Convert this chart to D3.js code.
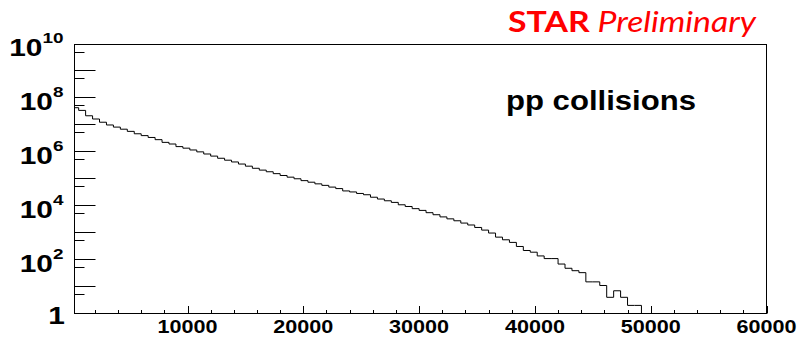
<!DOCTYPE html>
<html>
<head>
<meta charset="utf-8">
<script src="https://cdn.jsdelivr.net/npm/d3@7"></script>
<style>
  body { margin: 0; background: #fff; }
  svg { display: block; }
  text { font-family: "Liberation Sans", Arial, Helvetica, sans-serif; }
</style>
</head>
<body>
<div id="chart"></div>
<script>
// histogram: 600-wide bins starting at 0
var binLow = 0;
var binWidth = 600;
var counts = [
  44700000, 35500000, 22400000, 17000000, 12900000, 10200000, 8500000, 7100000, 5900000, 4800000,
  4100000, 3500000, 2900000, 2300000, 2000000, 1600000, 1400000, 1200000, 1020000, 850000,
  710000, 590000, 500000, 430000, 360000, 300000, 250000, 214000, 186000, 158000,
  135000, 117000, 102000, 87000, 76000, 66000, 58000, 50000, 44000, 36000,
  33000, 29000, 26000, 21000, 18000, 15500, 13500, 11000, 9500, 7900,
  6800, 5600, 4700, 3900, 3300, 2800, 2300, 1950, 1580, 1260,
  980, 690, 550, 440, 310, 220, 190, 138, 110, 110,
  69, 48, 39, 33, 15, 15, 11, 4, 7, 4,
  2, 2, 0, 0, 0, 0, 0, 0, 0, 0,
  0, 0, 0, 0, 0, 0, 0, 0, 0, 0
];
var xTicks = [10000, 20000, 30000, 40000, 50000, 60000];
var yLabelExp = [10, 8, 6, 4, 2, 0];
var plotLabel = "pp collisions";

var svgWidth = 811, svgHeight = 337;
var frame = { left: 74.5, right: 766.5, top: 44.5, bottom: 313.5 };
var stretch = 1.22;

var svg = d3.select("#chart").append("svg")
  .attr("width", svgWidth)
  .attr("height", svgHeight);

var xScale = d3.scaleLinear().domain([240, 60000]).range([frame.left, frame.right]);
var yScale = d3.scaleLog().domain([1, 1e10]).range([frame.bottom, frame.top]);

svg.append("clipPath").attr("id", "clip")
  .append("rect")
  .attr("x", frame.left).attr("y", frame.top)
  .attr("width", frame.right - frame.left)
  .attr("height", frame.bottom - frame.top);

// histogram outline as steps
var pts = [[xScale(binLow), frame.bottom]];
counts.forEach(function(c, i) {
  var x0 = xScale(binLow + i * binWidth);
  var x1 = xScale(binLow + (i + 1) * binWidth);
  var y = c > 0 ? yScale(c) : frame.bottom;
  pts.push([x0, y]);
  pts.push([x1, y]);
});
svg.append("path")
  .attr("clip-path", "url(#clip)")
  .attr("d", d3.line()(pts))
  .attr("fill", "none")
  .attr("stroke", "#000")
  .attr("stroke-width", 1);

// frame
svg.append("rect")
  .attr("x", frame.left).attr("y", frame.top)
  .attr("width", frame.right - frame.left)
  .attr("height", frame.bottom - frame.top)
  .attr("fill", "none")
  .attr("stroke", "#000")
  .attr("stroke-width", 1);

// y ticks: decades long, 5x short
var ticksG = svg.append("g").attr("stroke", "#000").attr("stroke-width", 1);
for (var e = 0; e <= 10; e++) {
  var yv = Math.round(yScale(Math.pow(10, e))) + 0.5;
  if (e > 0) ticksG.append("line").attr("x1", frame.left).attr("x2", frame.left + 21).attr("y1", yv - 1).attr("y2", yv - 1);
  if (e < 10) {
    var ym = Math.round(yScale(5 * Math.pow(10, e))) - 0.5;
    ticksG.append("line").attr("x1", frame.left).attr("x2", frame.left + 10).attr("y1", ym).attr("y2", ym);
  }
}

// x ticks: every 2000, long every 10000
d3.range(2000, 60001, 2000).forEach(function(v) {
  var xv = Math.round(xScale(v)) + 0.5;
  var len = v % 10000 === 0 ? 7.5 : 3.5;
  ticksG.append("line").attr("x1", xv).attr("x2", xv)
    .attr("y1", frame.bottom).attr("y2", frame.bottom - len);
});

// x labels
svg.selectAll(".xlab").data(xTicks).enter().append("text")
  .attr("class", "xlab")
  .attr("transform", function(d) { return "translate(" + xScale(d) + ",333) scale(" + stretch + ",1)"; })
  .attr("text-anchor", "middle")
  .style("font-size", "17.7px")
  .style("font-weight", "bold")
  .text(function(d) { return d; });

// y labels 10^n
yLabelExp.forEach(function(e) {
  var yt = yScale(Math.pow(10, e));
  if (e === 0) {
    svg.append("text")
      .attr("transform", "translate(65," + (yt + 10.5) + ") scale(" + stretch + ",1)")
      .attr("text-anchor", "end")
      .style("font-size", "24.5px").style("font-weight", "bold")
      .text("1");
    return;
  }
  var t = svg.append("text")
    .attr("transform", "translate(63.5," + (yt + 11.8) + ") scale(" + stretch + ",1)")
    .attr("text-anchor", "end")
    .style("font-size", "24.5px").style("font-weight", "bold");
  t.append("tspan").text("10");
  t.append("tspan").attr("dy", -13).style("font-size", "15.5px").text(e);
});

// plot label
svg.append("text")
  .attr("x", 506).attr("y", 110)
  .attr("textLength", 190).attr("lengthAdjust", "spacingAndGlyphs")
  .style("font-size", "27px").style("font-weight", "bold")
  .text(plotLabel);

// preliminary tag
var star = svg.append("text")
  .attr("x", 508).attr("y", 32)
  .attr("textLength", 248).attr("lengthAdjust", "spacingAndGlyphs")
  .style("font-family", "Lato, 'Open Sans', sans-serif")
  .style("font-size", "28px")
  .attr("fill", "#ff0000");
star.append("tspan").style("font-weight", "bold").text("STAR");
star.append("tspan").style("font-style", "italic").text(" Preliminary");
</script>
</body>
</html>
